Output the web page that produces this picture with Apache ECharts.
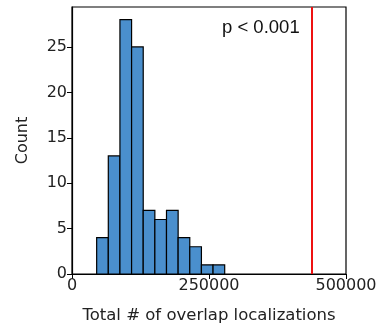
<!DOCTYPE html>
<html><head><meta charset="utf-8">
<script src="https://cdn.jsdelivr.net/npm/echarts@6/dist/echarts.min.js"></script>
<style>html,body{margin:0;padding:0;background:#fff}#c{width:382px;height:330px}</style>
</head><body><div id="c"></div>
<script>
const binStart = 45000;
const binWidth = 21240;
const counts = [4, 13, 28, 25, 7, 6, 7, 4, 3, 1, 1];
const observed = 437000;
const xTicks = [0, 250000, 500000];
const yTicks = [0, 5, 10, 15, 20, 25];
const annotation = 'p < 0.001';

const bins = counts.map((c, i) => [binStart + i * binWidth, binStart + (i + 1) * binWidth, c]);

const chart = echarts.init(document.getElementById('c'), null, {renderer: 'canvas'});
const font = 'DejaVu Sans';
chart.setOption({
  animation: false,
  grid: {left: 72, right: 36, top: 7, bottom: 56, show: true, borderColor: '#000', borderWidth: 1.2, backgroundColor: 'transparent'},
  xAxis: {
    type: 'value', min: 0, max: 500000, interval: 250000,
    name: 'Total # of overlap localizations', nameLocation: 'middle', nameGap: 33,
    nameTextStyle: {fontFamily: font, fontSize: 16.5, color: '#222'},
    axisLine: {show: true, lineStyle: {color: '#000', width: 1.2}},
    axisTick: {show: true, length: 5, lineStyle: {color: '#000'}},
    axisLabel: {fontFamily: font, fontSize: 16, color: '#222', margin: 4,
      formatter: v => xTicks.includes(v) ? String(v) : ''},
    splitLine: {show: false}
  },
  yAxis: {
    type: 'value', min: 0, max: 29.4, interval: 5,
    name: 'Count', nameLocation: 'middle', nameGap: 41,
    nameTextStyle: {fontFamily: font, fontSize: 16, color: '#222'},
    axisLine: {show: true, lineStyle: {color: '#000', width: 1.2}},
    axisTick: {show: true, length: 5, lineStyle: {color: '#000'}},
    axisLabel: {fontFamily: font, fontSize: 16, color: '#222', margin: 5, showMaxLabel: false,
      formatter: v => yTicks.includes(v) ? String(v) : ''},
    splitLine: {show: false}
  },
  series: [{
    type: 'custom',
    data: bins,
    encode: {x: [0, 1], y: 2},
    renderItem: (params, api) => {
      const p0 = api.coord([api.value(0), 0]);
      const p1 = api.coord([api.value(1), api.value(2)]);
      return {
        type: 'rect',
        shape: {x: p0[0], y: p1[1], width: p1[0] - p0[0], height: p0[1] - p1[1]},
        style: {fill: '#4a8fcd', stroke: '#000', lineWidth: 1.2}
      };
    },
    z: 2
  }, {
    type: 'line', data: [], silent: true,
    markLine: {
      symbol: 'none', silent: true, animation: false,
      label: {show: false},
      lineStyle: {color: '#ee1111', width: 2, type: 'solid'},
      data: [{xAxis: observed}]
    }
  }],
  graphic: [{
    type: 'text', left: 222, top: 18,
    style: {text: annotation, fontFamily: 'Liberation Sans', fontSize: 18.5, fill: '#111'}
  }]
});
</script></body></html>
